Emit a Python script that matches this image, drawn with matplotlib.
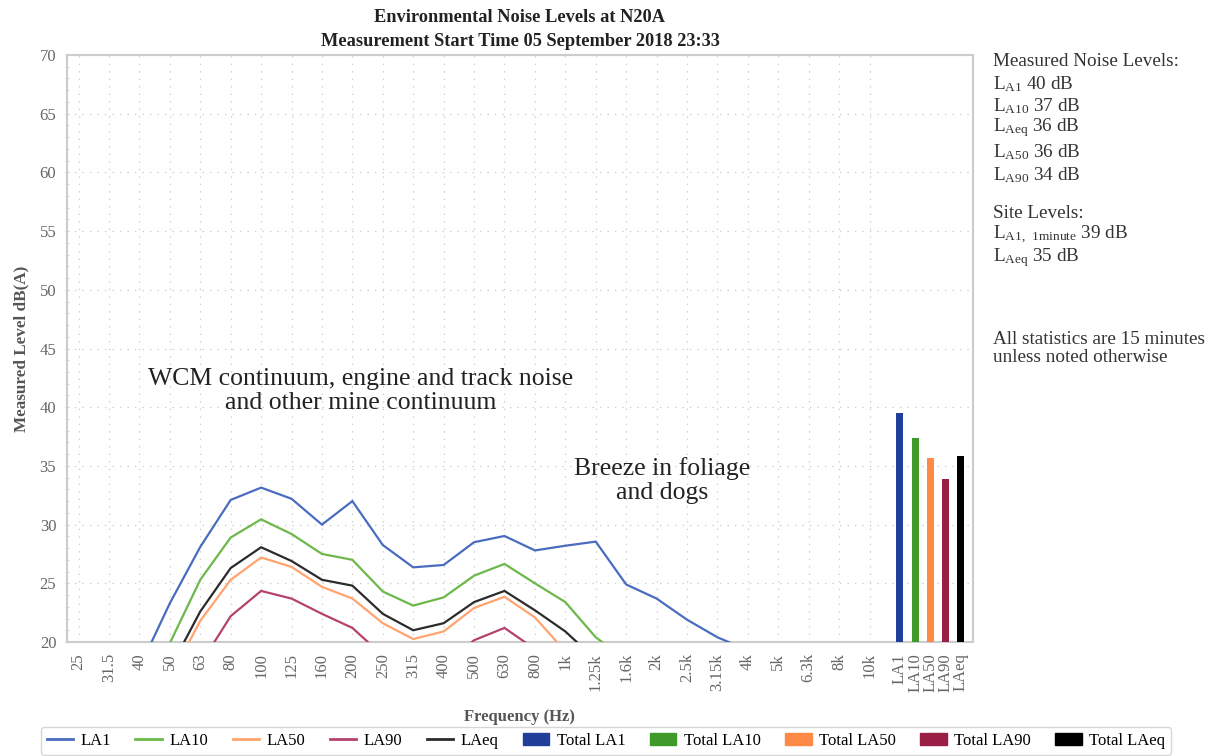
import matplotlib
matplotlib.use("Agg")
import matplotlib.pyplot as plt
from matplotlib.patches import Patch
from matplotlib.lines import Line2D
from matplotlib.ticker import MultipleLocator
import numpy as np

plt.rcParams['font.family'] = ['Liberation Serif', 'DejaVu Serif']
plt.rcParams['mathtext.fontset'] = 'custom'
plt.rcParams['mathtext.rm'] = 'Liberation Serif'
plt.rcParams['mathtext.default'] = 'regular'

# ---------------- data ----------------
freqs = ['25', '31.5', '40', '50', '63', '80', '100', '125', '160', '200', '250', '315',
         '400', '500', '630', '800', '1k', '1.25k', '1.6k', '2k', '2.5k', '3.15k', '4k',
         '5k', '6.3k', '8k', '10k']
la1 = [12.0, 14.5, 17.8, 23.3, 28.1, 32.1, 33.15, 32.2, 30.0, 32.0, 28.26, 26.36, 26.56,
       28.5, 29.03, 27.8, 28.2, 28.55, 24.9, 23.7, 21.9, 20.4, 19.3, 18.0, 16.5, 14.5, 12.5]
la10 = [9.5, 12.0, 15.5, 19.9, 25.3, 28.9, 30.45, 29.2, 27.5, 27.0, 24.3, 23.1, 23.8,
        25.65, 26.65, 25.0, 23.4, 20.4, 18.5, 17.0, 15.5, 14.0, 12.5, 11.0, 9.5, 8.0, 6.5]
la50 = [7.5, 10.0, 13.0, 16.9, 21.8, 25.3, 27.2, 26.4, 24.7, 23.7, 21.6, 20.25, 20.9,
        22.9, 23.85, 22.1, 19.2, 17.5, 16.0, 14.5, 13.0, 11.5, 10.0, 8.5, 7.0, 5.5, 4.0]
la90 = [5.0, 7.5, 10.5, 14.0, 18.1, 22.2, 24.35, 23.7, 22.4, 21.2, 18.85, 17.5, 18.0,
        20.15, 21.2, 19.4, 17.0, 15.5, 14.0, 12.5, 11.0, 9.5, 8.0, 6.5, 5.0, 3.5, 2.0]
laeq = [8.5, 11.0, 14.0, 17.7, 22.6, 26.3, 28.07, 26.9, 25.3, 24.8, 22.4, 21.0, 21.6,
        23.4, 24.35, 22.7, 20.9, 18.5, 17.0, 15.5, 14.0, 12.5, 11.0, 9.5, 8.0, 6.5, 5.0]
total_labels = ['LA1', 'LA10', 'LA50', 'LA90', 'LAeq']
total_values = [39.5, 37.35, 35.7, 33.86, 35.84]

line_names = ['LA1', 'LA10', 'LA50', 'LA90', 'LAeq']
line_colors = ['#4a6cc0', '#6db84a', '#ffa46e', '#b5426e', '#2b2b2b']
bar_colors = ['#1f3f9a', '#3f9a2a', '#ff8a45', '#9a1f45', '#000000']

# ---------------- figure ----------------
fig = plt.figure(figsize=(12.15, 7.56), dpi=100)
ax = fig.add_axes([66.7 / 1215, 1 - 642 / 756, (972.7 - 66.7) / 1215, (642 - 55) / 756])
ax.set_axisbelow(True)

x = np.arange(len(freqs))
series = [la1, la10, la50, la90, laeq]
for vals, c, n in zip(series, line_colors, line_names):
    ax.plot(x, vals, color=c, lw=1.6, label=n, solid_joinstyle='miter', zorder=3)

bar_x = len(freqs) + 0.5 * np.arange(len(total_labels))
for bx, v, c, n in zip(bar_x, total_values, bar_colors, total_labels):
    ax.bar(bx, v - 20, bottom=20, width=0.23, color=c, label='Total ' + n, zorder=3)

ax.set_xlim(-0.39, 29.39)
ax.set_ylim(20, 70)

xt = list(x) + list(bar_x)
ax.set_xticks(xt)
ax.set_xticklabels(freqs + total_labels, rotation=90, fontsize=12, color='#666666')
ax.tick_params(axis='x', length=0, pad=8)
ax.yaxis.set_major_locator(MultipleLocator(5))
ax.yaxis.set_minor_locator(MultipleLocator(1))
ax.tick_params(axis='y', which='major', length=3, color='#cccccc', labelsize=12,
               labelcolor='#666666', pad=6, direction='inout')
ax.tick_params(axis='y', which='minor', length=3, color='#cccccc', direction='inout')

grid_style = dict(linestyle=(0, (1, 5)), color='#c8c8c8', lw=0.9, zorder=0)
ax.grid(True, axis='y', which='major', **grid_style)
for xi in x:
    ax.axvline(xi, **grid_style)
for s in ax.spines.values():
    s.set_color('#cccccc')
    s.set_linewidth(1.5)

ax.set_xlabel('Frequency (Hz)', fontsize=12, fontweight='bold', color='#555555', labelpad=12)
ax.set_ylabel('Measured Level dB(A)', fontsize=12.3, fontweight='bold', color='#555555', labelpad=7)

fig.text(520 / 1215, 1 - 18 / 756, 'Environmental Noise Levels at N20A', ha='center', va='center',
         fontsize=13.2, fontweight='bold', color='#222222')
fig.text(520 / 1215, 1 - 41 / 756, 'Measurement Start Time 05 September 2018 23:33', ha='center',
         va='center', fontsize=13.2, fontweight='bold', color='#222222')

ax.text(9.26, 41.4, 'WCM continuum, engine and track noise\nand other mine continuum',
        ha='center', va='center', fontsize=18.5, color='#222222', linespacing=1.1)
ax.text(19.19, 33.76, 'Breeze in foliage\nand dogs', ha='center', va='center',
        fontsize=18.5, color='#222222', linespacing=1.1)

rx = 993 / 1215
right_items = [
    (62, 'Measured Noise Levels:'),
    (84, r'L$_{A1}$ 40 dB'),
    (106, r'L$_{A10}$ 37 dB'),
    (128, r'L$_{Aeq}$ 36 dB'),
    (152, r'L$_{A50}$ 36 dB'),
    (175, r'L$_{A90}$ 34 dB'),
    (213, 'Site Levels:'),
    (235, r'L$_{A1,\ 1minute}$ 39 dB'),
    (258, r'L$_{Aeq}$ 35 dB'),
    (340, 'All statistics are 15 minutes'),
    (358, 'unless noted otherwise'),
]
for yy, t in right_items:
    fig.text(rx, 1 - yy / 756, t, ha='left', va='center', fontsize=13.8, color='#333333')

handles = [Line2D([0], [0], color=c, lw=2) for c in line_colors] + \
          [Patch(facecolor=c, edgecolor=c) for c in bar_colors]
labels = line_names + ['Total ' + n for n in total_labels]
leg = fig.legend(handles, labels, loc='upper center', bbox_to_anchor=(606 / 1215, 1 - 727 / 756),
                 ncol=10, fontsize=12, frameon=True, fancybox=True, edgecolor='#cccccc',
                 handlelength=1.6, handletextpad=0.45, columnspacing=1.45, borderpad=0.35,
                 borderaxespad=0)
leg.get_frame().set_linewidth(1.0)

fig.savefig('out.png', dpi=100)
